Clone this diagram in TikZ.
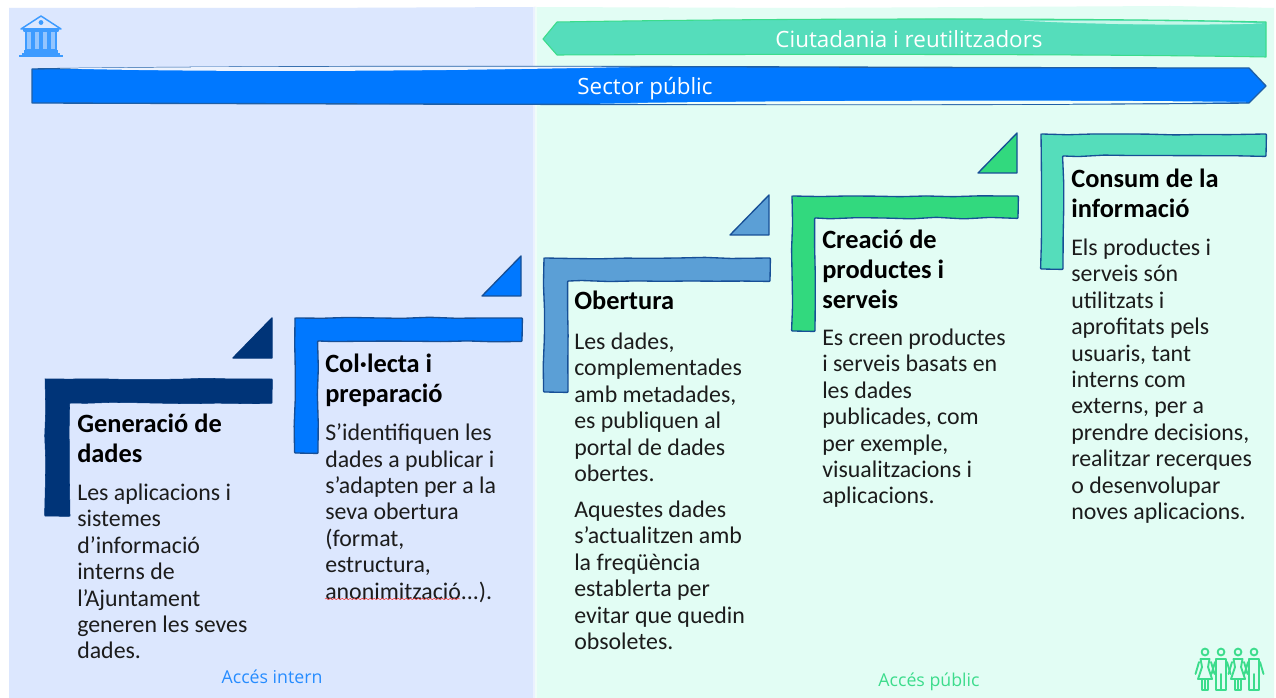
\documentclass[tikz,border=0pt]{standalone}
\usepackage{fontspec}
\setmainfont{Carlito}
\newfontfamily\labelfont{Open Sans}
\usetikzlibrary{decorations.pathmorphing,shapes.misc}
\definecolor{panelL}{HTML}{DCE7FE}
\definecolor{panelR}{HTML}{E2FDF4}
\definecolor{sectorC}{HTML}{0078FF}
\definecolor{sectorE}{HTML}{1F5FA5}
\definecolor{citC}{HTML}{55DDBB}
\definecolor{citE}{HTML}{3CDC8C}
\definecolor{navy}{HTML}{003478}
\definecolor{obert}{HTML}{5B9FD6}
\definecolor{creac}{HTML}{32D97E}
\definecolor{iconB}{HTML}{3D9BFF}
\definecolor{txt}{HTML}{1C1C1C}
\definecolor{edgeB}{HTML}{174F96}
\tikzset{
  x=0.75pt,y=-0.75pt,
  wob/.style={decorate,decoration={random steps,segment length=20pt,amplitude=0.7pt}},
  head/.style={anchor=north west,inner sep=0pt,yshift=13pt,align=left,font=\fontsize{19.8}{22.5}\selectfont\bfseries,text=black,execute at begin node={\rule{0pt}{16pt}}},
  body/.style={anchor=north west,inner sep=0pt,yshift=11.5pt,align=left,font=\fontsize{17.9}{19.8}\selectfont,text=txt,execute at begin node={\rule{0pt}{16pt}}},
  access/.style={anchor=base,inner sep=0pt,font=\labelfont\fontsize{13.3}{16}\selectfont},
  banner/.style={anchor=center,inner sep=0pt,text=white,font=\labelfont\fontsize{16.8}{20}\selectfont},
  iconl/.style={draw=iconB,line width=1.1pt,line join=round},
  iconp/.style={draw=citE,line width=1.4pt,line join=round,line cap=round},
}
\newcommand{\stepmark}[9]{%
  \path[fill=#7,draw=#8,line width=#9,line join=round,rounded corners=0.6pt,wob]
    (#1,#2) -- (#3,#2) -- (#3,#4) -- (#5,#4) -- (#5,#6) -- (#1,#6) -- cycle;
}
\newcommand{\tri}[4]{%
  \path[fill=#3,draw=#4,line width=1pt,line join=round]
    (#1-39,#2) -- (#1,#2-40) -- (#1,#2) -- cycle;
}
\begin{document}
\begin{tikzpicture}
\useasboundingbox (0,0) rectangle (1276,698);
\fill[white] (0,0) rectangle (1276,698);
\fill[panelL] (9,8) -- (300,8) -- (535,7) -- (535,698) -- (9,698) -- cycle;
\fill[panelR] (535,7) -- (800,8) -- (1170,6) -- (1274,8) -- (1274,698) -- (535,698) -- cycle;
\fill[white,opacity=.45] (533,7) rectangle (537,698);

% bank icon
\draw[iconl] (21,29) -- (41,16) -- (61,29) -- cycle;
\fill[iconB] (41,22.5) circle (2.4);
\draw[iconl] (24,31) rectangle (58,29);
\foreach \xx in {26,34,42,50}{\draw[iconl,line width=.9pt,fill=iconB!45!panelL] (\xx,31) rectangle ++(6,19);}
\fill[iconB] (24,50) rectangle (58,53);
\fill[iconB] (22,53) rectangle (60,55);
\fill[iconB] (19,55) rectangle (63,57);

% people icon
\foreach \px/\kind in {1205/0,1221/1,1238/0,1254/1}{
  \draw[iconp,fill=panelR] (\px,652) circle (3.4);
  \draw[iconp] (\px-6,662) -- (\px-9.5,674) (\px+6,662) -- (\px+9.5,674);
  \ifnum\kind=0
    \draw[iconp] (\px-4.5,659) -- (\px+4.5,659) -- (\px+3,667) -- (\px+7,679) -- (\px-7,679) -- (\px-3,667) -- cycle;
    \draw[iconp] (\px-3,679) -- (\px-3,690) -- (\px+3,690) -- (\px+3,679) (\px,679) -- (\px,690);
  \else
    \draw[iconp] (\px-5,659) -- (\px+5,659) -- (\px+5,690) -- (\px-5,690) -- cycle (\px,674) -- (\px,690);
  \fi
}

% banners
\path[fill=citC,draw=citE,line width=.8pt,line join=round]
  (543,39) -- (557,22) .. controls (800,18) and (1100,18) .. (1266,22) -- (1266,57) .. controls (1100,54) and (800,54) .. (557,55) -- cycle;
\fill[panelR,opacity=.8] (1020,20.5) .. controls (1100,20.5) and (1200,21) .. (1262,23.5) .. controls (1200,25.5) and (1100,25) .. (1020,20.5) -- cycle;
\node[banner] (citizens) at (909,39) {Ciutadania i reutilitzadors};
\path[fill=sectorC,draw=sectorE,line width=1pt,line join=round]
  (32,69) .. controls (400,64) and (900,68) .. (1249,68) -- (1266,86) -- (1249,103) .. controls (900,106) and (400,104) .. (32,103) -- cycle;
\fill[panelL!50!white] (60,68.5) .. controls (200,66.5) and (400,66.5) .. (640,66.8) .. controls (400,72) and (200,72) .. (60,68.5) -- cycle;
\fill[panelR!50!white] (600,103.5) .. controls (800,100) and (1100,100) .. (1246,102) .. controls (1100,104.5) and (800,105) .. (600,103.5) -- cycle;
\node[banner] (sector) at (645,89) {Sector públic};

% step marks
\stepmark{45}{379}{272}{403}{70}{516}{navy}{navy}{.4pt}
\tri{272}{358}{navy}{navy}
\stepmark{295}{318}{522}{341}{318}{453}{sectorC}{edgeB}{1pt}
\tri{521}{296}{sectorC}{edgeB}
\stepmark{544}{258}{770}{281}{568}{392}{obert}{edgeB}{1pt}
\tri{769}{235}{obert}{edgeB}
\stepmark{792}{196}{1018}{218}{815}{331}{creac}{edgeB}{1pt}
\tri{1017}{173}{creac}{edgeB}
\stepmark{1041}{134}{1266}{156}{1063}{269}{citC}{edgeB}{1pt}

% texts
\node[head] (h1) at (77,431) {Generació de\\dades};
\node[body] (b1) at (77,499) {Les aplicacions i\\sistemes\\d’informació\\interns de\\l’Ajuntament\\generen les seves\\dades.};
\node[head] (h2) at (325,371) {Col·lecta i\\preparació};
\node[body] (b2) at (325,439) {S’identifiquen les\\dades a publicar i\\s’adapten per a la\\seva obertura\\(format,\\estructura,\\anonimització...).};
\draw[red!80,line width=.35pt,decorate,decoration={snake,segment length=3pt,amplitude=.5pt}] (325,599) -- (461,599);
\node[head] (h3) at (574,305) {Obertura};
\node[body] (b3) at (574,348) {Les dades,\\complementades\\amb metadades,\\es publiquen al\\portal de dades\\obertes.};
\node[body] (b3b) at (574,516) {Aquestes dades\\s’actualitzen amb\\la freqüència\\establerta per\\evitar que quedin\\obsoletes.};
\node[head] (h4) at (822,247) {Creació de\\productes i\\serveis};
\node[body] (b4) at (822,344) {Es creen productes\\i serveis basats en\\les dades\\publicades, com\\per exemple,\\visualitzacions i\\aplicacions.};
\node[head] (h5) at (1071,186) {Consum de la\\informació};
\node[body] (b5) at (1071,254) {Els productes i\\serveis són\\utilitzats i\\aprofitats pels\\usuaris, tant\\interns com\\externs, per a\\prendre decisions,\\realitzar recerques\\o desenvolupar\\noves aplicacions.};
\node[access,text=sectorC!85!white] (ai) at (272,683) {Accés intern};
\node[access,text=citE] (ap) at (929,686) {Accés públic};
\end{tikzpicture}
\end{document}
